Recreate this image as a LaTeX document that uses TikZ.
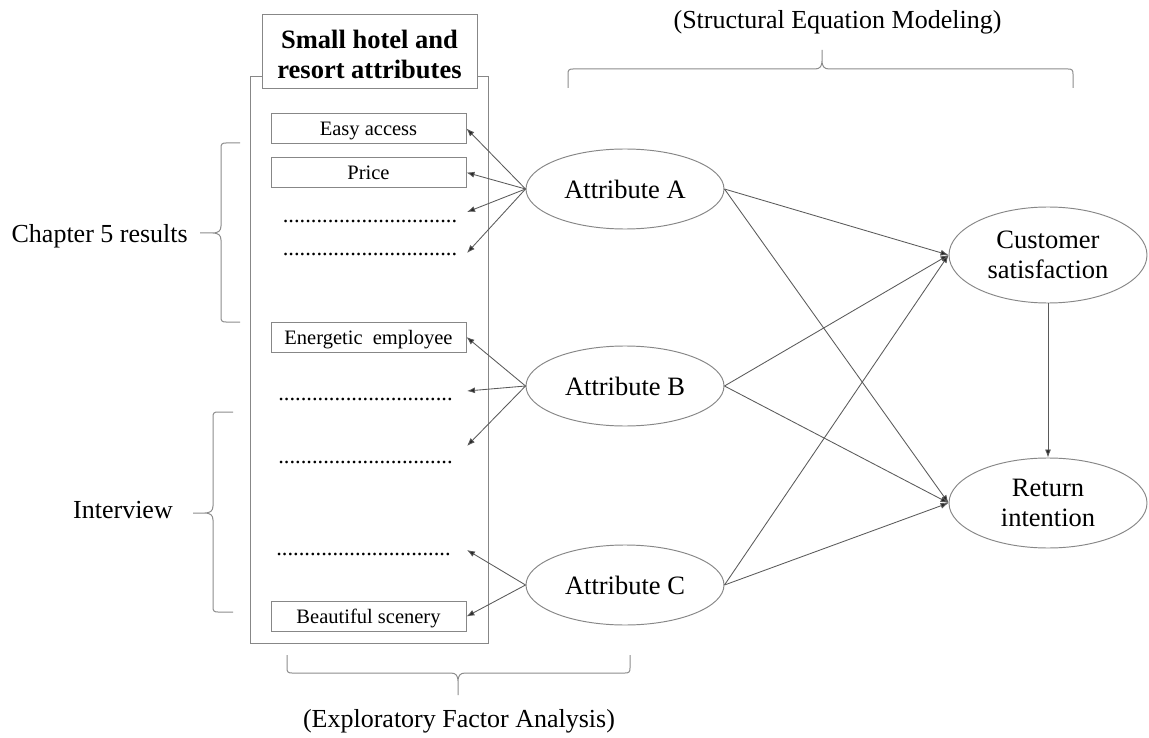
\documentclass[tikz,border=0pt]{standalone}
\usepackage{fontspec}
\setmainfont{Liberation Serif}
\usetikzlibrary{arrows.meta,shapes.geometric}
\definecolor{framegray}{RGB}{135,135,135}
\definecolor{arrowgray}{RGB}{90,90,90}
\definecolor{bracegray}{RGB}{140,140,140}
\begin{document}
\begin{tikzpicture}[x=1pt,y=-1pt,
  frame/.style={draw=framegray, line width=0.95pt},
  attrbox/.style={frame, minimum width=195pt, minimum height=30pt, inner sep=0pt,
     text height=14.5pt, text depth=0.5pt, font=\fontsize{20.5}{24}\selectfont},
  ell/.style={draw=framegray, line width=0.95pt, ellipse, inner sep=0pt,
     minimum width=198pt, minimum height=80pt, align=center,
     font=\fontsize{26.5}{30}\selectfont},
  arr/.style={draw=arrowgray, line width=0.85pt, -{Latex[length=8pt,width=6pt,fill=black!85]}},
  brc/.style={draw=bracegray, line width=1pt},
  lbl/.style={font=\fontsize{26}{30}\selectfont, inner sep=0pt},
  dotrow/.style={font=\fontsize{22.5}{26}\selectfont, inner sep=0pt, anchor=base}
]
\path[use as bounding box, fill=white] (0,0) rectangle (1149,738);

% left column frame and title
\node[frame, minimum width=238pt, minimum height=567pt, inner sep=0pt] (outer) at (369,359.5) {};
\node[frame, fill=white, minimum width=215pt, minimum height=74pt, inner sep=0pt] (titlebox) at (369.5,51) {};
\node[align=center, inner sep=0pt, font=\bfseries\fontsize{26.5}{30}\selectfont] (title) at (369.5,54) {Small hotel and\\resort attributes};

% attribute items
\node[attrbox] (ea) at (368.5,128.5) {Easy access};
\node[attrbox] (pr) at (368.5,172.5) {Price};
\node[attrbox] (ee) at (368.5,337) {Energetic\ \ employee};
\node[attrbox] (bs) at (368.5,616.5) {Beautiful scenery};
\node[dotrow] (d1) at (370,223) {...............................};
\node[dotrow] (d2) at (370,256) {...............................};
\node[dotrow] (d3) at (365.5,400) {...............................};
\node[dotrow] (d4) at (365.5,463) {...............................};
\node[dotrow] (d5) at (363.5,555) {...............................};

% latent constructs
\node[ell] (A) at (625,189) {Attribute A};
\node[ell] (B) at (625,386) {Attribute B};
\node[ell] (C) at (625,585) {Attribute C};
\node[ell, minimum height=96pt] (CS) at (1048,255) {Customer\\satisfaction};
\node[ell, minimum height=90pt] (RI) at (1048,503) {Return\\intention};

% free arrow ends next to the dotted rows
\coordinate (a3) at (467,212);
\coordinate (a4) at (467,253);
\coordinate (b2) at (467,391);
\coordinate (b3) at (467,446);
\coordinate (c1) at (467,550);

% measurement arrows
\draw[arr] (A.west) -- (ea.east);
\draw[arr] (A.west) -- (pr.east);
\draw[arr] (A.west) -- (a3);
\draw[arr] (A.west) -- (a4);
\draw[arr] (B.west) -- (ee.east);
\draw[arr] (B.west) -- (b2);
\draw[arr] (B.west) -- (b3);
\draw[arr] (C.west) -- (c1);
\draw[arr] (C.west) -- (bs.east);

% structural arrows
\draw[arr] (A.east) -- (CS.west);
\draw[arr] (A.east) -- (RI.west);
\draw[arr] (B.east) -- (CS.west);
\draw[arr] (B.east) -- (RI.west);
\draw[arr] (C.east) -- (CS.west);
\draw[arr] (C.east) -- (RI.west);
\draw[arr] (CS.south) -- (RI.north);

% braces
\draw[brc] (568,88) -- (568,74) .. controls (568,70) and (569,69) .. (573,69) -- (815,69)
  .. controls (820,69) and (822,66) .. (822,61) -- (822,50)
  (822,61) .. controls (822,66) and (824,69) .. (829,69) -- (1068,69)
  .. controls (1072,69) and (1073,70) .. (1073,74) -- (1073,88);
\draw[brc] (287,655) -- (287,668) .. controls (287,672) and (288,673) .. (292,673) -- (451,673)
  .. controls (456,673) and (458,676) .. (458,681) -- (458,695)
  (458,681) .. controls (458,676) and (460,673) .. (465,673) -- (625,673)
  .. controls (629,673) and (630,672) .. (630,668) -- (630,655);
\draw[brc] (240,143) -- (226,143) .. controls (222,143) and (221,144) .. (221,148) -- (221,226)
  .. controls (221,231) and (218,233) .. (213,233) -- (200,233)
  (213,233) .. controls (218,233) and (221,235) .. (221,240) -- (221,317)
  .. controls (221,321) and (222,322) .. (226,322) -- (240,322);
\draw[brc] (233,412) -- (218,412) .. controls (214,412) and (213,413) .. (213,417) -- (213,506)
  .. controls (213,511) and (210,513) .. (205,513) -- (193,513)
  (205,513) .. controls (210,513) and (213,515) .. (213,520) -- (213,607)
  .. controls (213,611) and (214,612) .. (218,612) -- (233,612);

% labels
\node[lbl, anchor=base] (sem) at (837.5,29) {(Structural Equation Modeling)};
\node[lbl, anchor=base] (efa) at (459,727) {(Exploratory Factor Analysis)};
\node[lbl, anchor=base east] (ch5) at (188,243) {Chapter 5 results};
\node[lbl, anchor=base east] (intv) at (173,518) {Interview};
\end{tikzpicture}
\end{document}
